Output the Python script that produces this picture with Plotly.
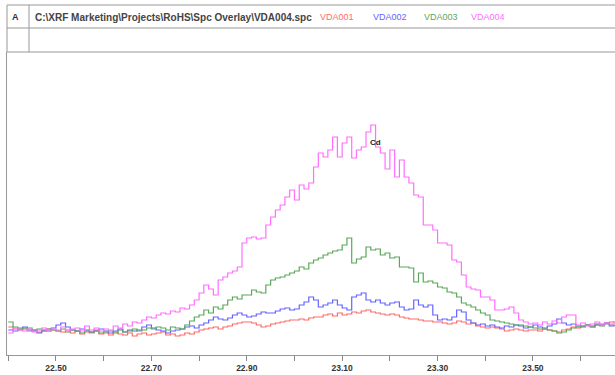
import plotly.graph_objects as go

# Energy channels (keV), 0.01 keV apart
energy_start = 22.40
energy_step = 0.01

vda001 = [28,26,25,27,24,25,23,24,26,25,
          24,23,25,22,24,21,23,22,24,21,
          22,20,23,21,20,22,19,21,22,20,
          21,22,23,20,21,19,20,22,21,23,
          25,26,27,28,26,28,29,31,32,33,
          33,32,30,28,29,31,32,33,34,35,
          35,36,35,37,38,38,40,41,39,42,
          40,41,43,42,44,45,43,42,41,40,
          41,40,38,37,36,36,35,34,34,33,
          33,32,31,32,34,33,31,32,29,28,
          27,28,27,26,24,25,26,25,24,25,
          25,24,26,25,24,23,25,26,28,27,
          29,30,28,30,31,32,33,34]

vda002 = [25,24,26,28,25,24,22,25,24,27,
          30,32,28,25,24,26,25,23,24,26,
          24,22,24,26,23,25,24,25,28,30,
          27,25,24,22,24,25,26,28,29,27,
          30,32,35,38,36,35,37,40,42,40,
          38,39,41,43,42,42,44,46,47,45,
          46,50,53,58,55,48,50,52,55,50,
          47,45,58,60,62,55,53,55,52,50,
          52,53,48,45,46,55,50,48,50,40,
          35,36,35,38,45,43,35,32,30,31,
          29,30,28,27,29,28,30,29,27,28,
          30,28,27,29,31,36,32,30,31,29,
          28,30,29,31,30,32,29,30]

vda003 = [33,28,27,26,27,25,26,24,26,25,
          24,26,23,25,24,22,24,23,25,22,
          23,24,22,25,23,24,26,24,25,27,
          26,28,27,25,28,27,26,30,34,38,
          40,45,42,48,46,50,55,58,56,60,
          60,65,63,62,70,75,77,78,80,82,
          84,88,86,92,95,97,100,102,104,105,
          110,117,92,96,98,108,105,106,100,102,
          97,98,88,88,87,73,82,73,74,72,
          68,67,63,62,58,52,50,48,45,42,
          40,35,34,33,32,31,30,30,29,28,
          27,26,26,25,24,22,23,25,27,28,
          29,30,28,30,29,31,30,29]

vda004 = [22,27,25,24,26,23,25,27,24,26,
          25,28,24,26,27,24,29,25,27,24,
          26,25,29,27,31,29,33,32,35,38,
          37,40,42,41,44,43,47,46,50,55,
          62,70,66,60,75,78,82,84,88,112,
          117,118,116,117,130,138,145,150,158,165,
          155,170,166,172,188,202,198,205,218,198,
          212,218,197,205,208,223,230,208,202,186,
          205,178,195,178,172,160,158,130,130,125,
          112,112,110,95,93,80,68,66,65,58,
          58,55,45,45,46,48,42,35,33,31,
          32,30,33,31,34,32,38,40,40,30,
          32,29,31,33,30,32,31,33]

series_names = ["VDA001", "VDA002", "VDA003", "VDA004"]
series_values = [vda001, vda002, vda003, vda004]
series_colors = ["#ff6a6a", "#6464ff", "#5aa85a", "#ff6eff"]

file_path = "C:\\XRF Marketing\\Projects\\RoHS\\Spc Overlay\\VDA004.spc"
peak_label = "Cd"
peak_energy = 23.155
peak_value = 213

tick_vals = [22.50, 22.70, 22.90, 23.10, 23.30, 23.50]

W, H = 615, 375
L, T, B = 7, 52, 20
PW, PH = W - L, H - T - B

fig = go.Figure()
for name, vals, col in zip(series_names, series_values, series_colors):
    xs = [round(energy_start + i * energy_step, 2) for i in range(len(vals))]
    fig.add_trace(go.Scatter(x=xs, y=vals, mode="lines", name=name,
                             line=dict(color=col, width=1.2, shape="hv"),
                             showlegend=False, hoverinfo="skip"))

fig.update_layout(
    width=W, height=H,
    margin=dict(l=L, r=0, t=T, b=B, pad=0),
    paper_bgcolor="white", plot_bgcolor="white",
    font=dict(family="Liberation Sans, Arial, sans-serif", size=9, color="#333"),
    xaxis=dict(range=[22.3973, 23.672], tickvals=tick_vals, tickformat=".2f",
               ticks="outside", ticklen=5, tickcolor="#888", showgrid=False,
               zeroline=False, showline=True, linecolor="#999", linewidth=1,
               minor=dict(dtick=0.1, tick0=22.5, ticks="outside", ticklen=5,
                          tickcolor="#888", showgrid=False),
               tickfont=dict(size=8.5, color="#333", weight="bold")),
    yaxis=dict(range=[0, 303], showticklabels=False, ticks="", showgrid=False,
               zeroline=False, showline=True, linecolor="#999", linewidth=1),
)

# header table lines (figure pixels -> plot-area paper coords)
def px(x):
    return (x - L) / PW

def py(y):
    return (H - B - y) / PH

line_style = dict(color="#999", width=1)
for y in [5, 28, 52]:
    fig.add_shape(type="line", xref="paper", yref="paper",
                  x0=px(7), x1=px(615), y0=py(y), y1=py(y), line=line_style)
fig.add_shape(type="line", xref="paper", yref="paper",
              x0=px(7), x1=px(7), y0=py(5), y1=py(52), line=line_style)
fig.add_shape(type="line", xref="paper", yref="paper",
              x0=px(29), x1=px(29), y0=py(5), y1=py(52), line=line_style)

fig.add_annotation(text="<b>A</b>", xref="paper", yref="paper", x=px(15), y=py(17),
                   xanchor="center", yanchor="middle", showarrow=False,
                   font=dict(size=9, color="#333"))
fig.add_annotation(text="<b>" + file_path + "</b>", xref="paper", yref="paper",
                   x=px(33), y=py(17), xanchor="left", yanchor="middle",
                   showarrow=False, font=dict(size=10, color="#444"))
legend_x = [318, 371, 422, 469]
for name, col, lx in zip(series_names, series_colors, legend_x):
    fig.add_annotation(text=name, xref="paper", yref="paper", x=px(lx), y=py(17),
                       xanchor="left", yanchor="middle", showarrow=False,
                       font=dict(size=9, color=col))

fig.add_annotation(text="<b>" + peak_label + "</b>", x=peak_energy, y=peak_value,
                   xref="x", yref="y", showarrow=False, xanchor="left",
                   yanchor="middle", font=dict(size=8, color="#222"))

fig.write_html("out.html", config={"displayModeBar": False},
               post_script="document.body.style.margin='0';document.body.style.overflow='hidden';")
